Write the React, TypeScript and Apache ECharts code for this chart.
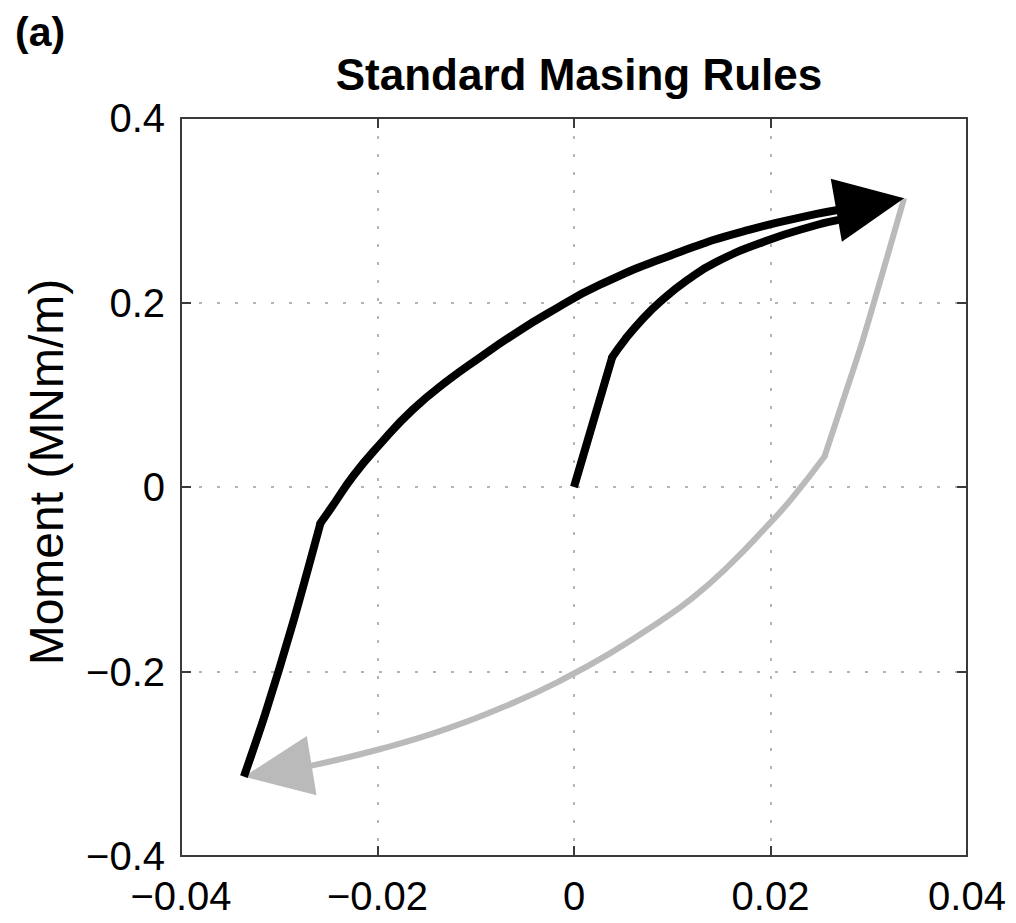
import React, { useEffect, useRef } from "react";
import * as echarts from "echarts";

// ---- Data (rotation, moment) ----
const xTicks = [-0.04, -0.02, 0, 0.02, 0.04];
const yTicks = [-0.4, -0.2, 0, 0.2, 0.4];

// initial loading (black): elastic part, then yielding part
const initialElastic: number[][] = [[0, 0], [0.0039, 0.141]];
const initialCurve: number[][] = [
  [0.0039, 0.141], [0.0052, 0.16], [0.0068, 0.18], [0.0088, 0.201],
  [0.0115, 0.224], [0.0145, 0.244], [0.0196, 0.267], [0.0247, 0.284], [0.0267, 0.289],
];
// reloading (black): from negative peak, elastic then yielding up to the positive peak
const reloadElastic: number[][] = [
  [-0.0336, -0.314], [-0.0314, -0.245], [-0.0286, -0.147], [-0.0258, -0.039],
];
const reloadCurve: number[][] = [
  [-0.0258, -0.039], [-0.0248, -0.024], [-0.0224, 0.013], [-0.0197, 0.047],
  [-0.0164, 0.084], [-0.0129, 0.115], [-0.0095, 0.141], [-0.0062, 0.165],
  [-0.0027, 0.188], [0.0026, 0.219], [0.0111, 0.256], [0.0179, 0.279],
  [0.0247, 0.296], [0.0267, 0.3],
];
// unloading (grey): from positive peak, elastic then yielding down to the negative peak
const unloadElastic: number[][] = [
  [0.0336, 0.313], [0.0311, 0.221], [0.0293, 0.156], [0.0273, 0.091], [0.0255, 0.033],
];
const unloadCurve: number[][] = [
  [0.0255, 0.033], [0.0222, -0.012], [0.0196, -0.043], [0.0155, -0.088],
  [0.0121, -0.12], [0.0087, -0.146], [0.0037, -0.18], [-0.0014, -0.21],
  [-0.0062, -0.234], [-0.0129, -0.262], [-0.0197, -0.284], [-0.0267, -0.302],
];
// arrowheads: [baseX, baseY, tipX, tipY]
const blackArrow: number[][] = [[0.0267, 0.3, 0.0336, 0.313]];
const greyArrow: number[][] = [[-0.0267, -0.302, -0.0336, -0.314]];

const FONT = "'Liberation Sans', Arial, Helvetica, sans-serif";
const BLACK = "#000000";
const GREY = "#bababa";

function fmt(digits: number) {
  return (v: number) => {
    if (Math.abs(v) < 1e-9) return "0";
    return (v < 0 ? "\u2212" : "") + Math.abs(v).toFixed(digits);
  };
}

function lineSeries(data: number[][], color: string, width: number, z: number, smooth: number, cap: string) {
  return {
    type: "line",
    z,
    data,
    smooth,
    showSymbol: false,
    symbol: "none",
    lineStyle: { color, width, cap, join: "round" },
  };
}

function arrowSeries(data: number[][], color: string, halfWidth: number, z: number) {
  return {
    type: "custom",
    z,
    data,
    encode: { x: [0, 2], y: [1, 3] },
    renderItem: (_params: any, api: any) => {
      const b = api.coord([api.value(0), api.value(1)]);
      const t = api.coord([api.value(2), api.value(3)]);
      const dx = t[0] - b[0];
      const dy = t[1] - b[1];
      const len = Math.hypot(dx, dy) || 1;
      const nx = -dy / len;
      const ny = dx / len;
      return {
        type: "polygon",
        shape: {
          points: [
            t,
            [b[0] + nx * halfWidth, b[1] + ny * halfWidth],
            [b[0] - nx * halfWidth, b[1] - ny * halfWidth],
          ],
        },
        style: { fill: color, stroke: null },
      };
    },
  };
}

export default function App() {
  const ref = useRef<HTMLDivElement>(null);
  useEffect(() => {
    if (!ref.current) return;
    const chart = echarts.init(ref.current, null, { renderer: "svg" });
    const frameLine = { color: "#3a3a3a", width: 2 };
    const gridLine = { color: "#b4b4b4", width: 2, type: [3, 15] as any };
    const baseX = { type: "value", min: xTicks[0], max: xTicks[xTicks.length - 1], interval: 0.02 };
    const baseY = { type: "value", min: yTicks[0], max: yTicks[yTicks.length - 1], interval: 0.2 };
    chart.setOption({
      animation: false,
      backgroundColor: "#ffffff",
      title: [
        {
          text: "(a)",
          left: 10,
          top: 6,
          textStyle: { fontFamily: FONT, fontSize: 41, fontWeight: "bold", color: "#000" },
        },
        {
          text: "Standard Masing Rules",
          left: 574,
          textAlign: "center",
          top: 47,
          textStyle: { fontFamily: FONT, fontSize: 44, fontWeight: "bold", color: "#000" },
        },
      ],
      graphic: [
        {
          type: "text",
          x: 46,
          y: 472,
          rotation: Math.PI / 2,
          style: {
            text: "Moment (MNm/m)",
            fontFamily: FONT,
            fontSize: 48,
            fill: "#000",
            textAlign: "center",
            textVerticalAlign: "middle",
          },
        },
      ],
      grid: { left: 181, top: 118, width: 786, height: 738, containLabel: false },
      xAxis: [
        {
          ...baseX,
          position: "bottom",
          axisLine: { show: true, onZero: false, lineStyle: frameLine },
          axisTick: { show: true, inside: true, length: 10, lineStyle: frameLine },
          axisLabel: {
            formatter: fmt(2),
            fontFamily: FONT,
            fontSize: 40,
            color: "#000",
            margin: 20,
            showMinLabel: true,
            showMaxLabel: true,
          },
          splitLine: { show: true, lineStyle: gridLine },
        },
        {
          ...baseX,
          position: "top",
          axisLine: { show: true, onZero: false, lineStyle: frameLine },
          axisTick: { show: true, inside: true, length: 10, lineStyle: frameLine },
          axisLabel: { show: false },
          splitLine: { show: false },
        },
      ],
      yAxis: [
        {
          ...baseY,
          position: "left",
          axisLine: { show: true, onZero: false, lineStyle: frameLine },
          axisTick: { show: true, inside: true, length: 10, lineStyle: frameLine },
          axisLabel: {
            formatter: fmt(1),
            fontFamily: FONT,
            fontSize: 40,
            color: "#000",
            margin: 16,
            showMinLabel: true,
            showMaxLabel: true,
          },
          splitLine: { show: true, lineStyle: gridLine },
        },
        {
          ...baseY,
          position: "right",
          axisLine: { show: true, onZero: false, lineStyle: frameLine },
          axisTick: { show: true, inside: true, length: 10, lineStyle: frameLine },
          axisLabel: { show: false },
          splitLine: { show: false },
        },
      ],
      series: [
        lineSeries(unloadElastic, GREY, 6, 2, 0.3, "butt"),
        lineSeries(unloadCurve, GREY, 6, 2, 0.5, "round"),
        arrowSeries(greyArrow, GREY, 30, 3),
        lineSeries(initialElastic, BLACK, 8, 4, 0, "butt"),
        lineSeries(initialCurve, BLACK, 8, 4, 0.5, "round"),
        lineSeries(reloadElastic, BLACK, 8, 4, 0.3, "butt"),
        lineSeries(reloadCurve, BLACK, 8, 4, 0.5, "round"),
        arrowSeries(blackArrow, BLACK, 32, 5),
      ],
    });
    return () => chart.dispose();
  }, []);
  return (
    <div
      ref={ref}
      style={{ position: "fixed", left: 0, top: 0, width: 1016, height: 923, background: "#fff" }}
    />
  );
}
